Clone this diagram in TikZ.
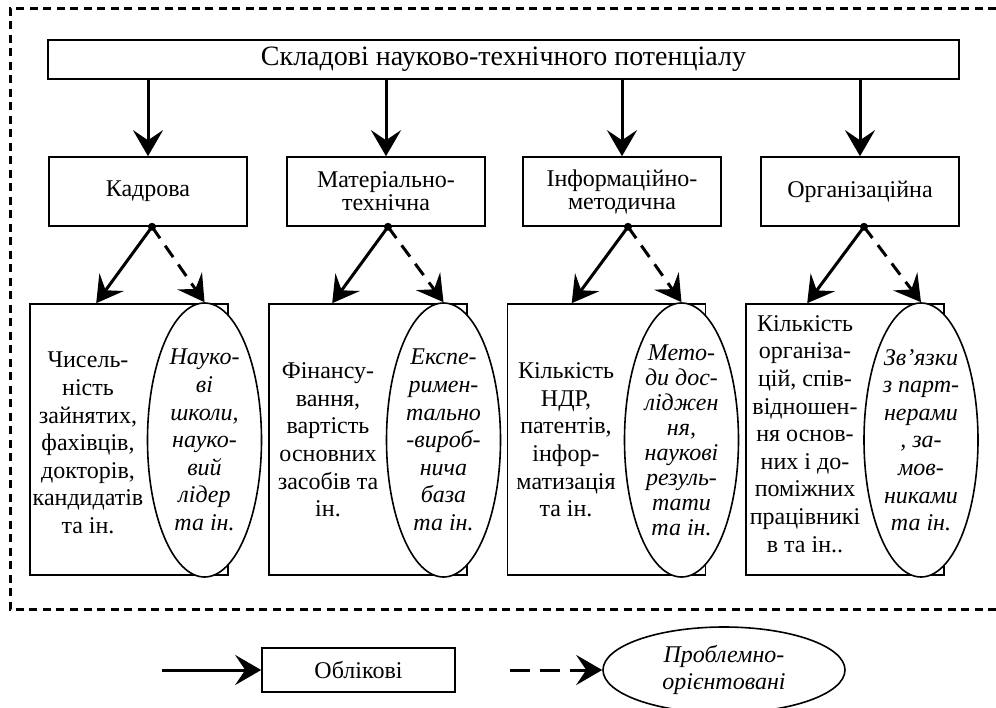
\documentclass[tikz,border=0pt]{standalone}
\usepackage{fontspec}
\setmainfont{Liberation Serif}
\usetikzlibrary{arrows.meta,shapes.geometric,calc}
\begin{document}
\begin{tikzpicture}[x=1pt,y=-1pt,
  txt/.style={font=\fontsize{24}{27.6}\selectfont,align=center,inner sep=0pt},
  box/.style={draw,line width=1.6pt,inner sep=0pt,align=center,font=\fontsize{24}{23}\selectfont},
  bigbox/.style={draw,line width=1.6pt,inner sep=0pt,minimum width=198pt,minimum height=271pt},
  ell/.style={draw,ellipse,fill=white,line width=1.6pt,inner sep=0pt,align=center,
    minimum width=114pt,minimum height=274pt,font=\fontsize{24}{27.6}\selectfont\itshape},
  dot/.style={circle,fill,inner sep=0pt,minimum size=8pt},
  arr/.style={line width=3pt,-{Stealth[length=26pt,width=30pt,inset=10pt]}},
  darr/.style={arr,dash pattern=on 14pt off 9pt},
  frame/.style={line width=3pt,dash pattern=on 8pt off 5.5pt}
]
\useasboundingbox (0,0) rectangle (996,707);
% outer dashed frame (open to the right)
\draw[frame] (996,8) -- (10,8) -- (10,609) -- (996,609);

% top box
\node[box,minimum width=911pt,minimum height=39pt,font=\fontsize{28}{30}\selectfont] (top) at (503.5,59.5) {Складові науково-технічного потенціалу};

% second row
\node[box,minimum width=198pt,minimum height=69pt] (k) at (148,191.5) {Кадрова};
\node[box,minimum width=198pt,minimum height=69pt] (m) at (386,191.5) {Матеріально-\\технічна};
\node[box,minimum width=198pt,minimum height=69pt] (i) at (622,191.5) {Інформаційно-\\методична};
\node[box,minimum width=198pt,minimum height=69pt] (o) at (860,191.5) {Організаційна};

\foreach \n in {k,m,i,o}{
  \draw[arr] (top.south -| \n.north) -- (\n.north);
}

% third row rectangles
\node[bigbox] (r1) at (129,439.5) {};
\node[bigbox] (r2) at (368,439.5) {};
\node[bigbox] (r3) at (606.5,439.5) {};
\node[bigbox] (r4) at (845,439.5) {};

\node[txt] (t1) at (88,443) {Чисель-\\ність\\зайнятих,\\фахівців,\\докторів,\\кандидатів\\та ін.};
\node[txt] (t2) at (328,440) {Фінансу-\\вання,\\вартість\\основних\\засобів та\\ін.};
\node[txt] (t3) at (566,440) {Кількість\\НДР,\\патентів,\\інфор-\\матизація\\та ін.};
\node[txt] (t4) at (805,434) {Кількість\\організа-\\цій, спів-\\відношен-\\ня основ-\\них і до-\\поміжних\\працівникі\\в та ін..};

% ellipses
\node[ell] (e1) at (204.5,440) {Науко-\\ві\\школи,\\науко-\\вий\\лідер\\та ін.};
\node[ell] (e2) at (443.5,440) {Експе-\\римен-\\тально\\-вироб-\\нича\\база\\та ін.};
\node[ell,font=\fontsize{24}{25}\selectfont\itshape] (e3) at (681.5,440) {Мето-\\ди дос-\\ліджен\\ня,\\наукові\\резуль-\\тати\\та ін.};
\node[ell] (e4) at (921,440) {Зв’язки\\з парт-\\нерами\\, за-\\мов-\\никами\\та ін.};

% dots and branching arrows
\node[dot] (d1) at ($(k.south)+(4,0)$) {};
\node[dot] (d2) at ($(m.south)+(2,0)$) {};
\node[dot] (d3) at ($(i.south)+(6,0)$) {};
\node[dot] (d4) at ($(o.south)+(4,0)$) {};
\coordinate (s1) at ($(r1.north west)+(67,0)$);
\coordinate (s2) at ($(r2.north west)+(64,0)$);
\coordinate (s3) at ($(r3.north west)+(65,0)$);
\coordinate (s4) at ($(r4.north west)+(62,0)$);
\foreach \j in {1,2,3,4}{
  \draw[arr] (d\j.center) -- (s\j);
  \draw[darr] (d\j.center) -- (e\j.north);
}

% legend
\coordinate (la) at (162,670);
\node[box,minimum width=193pt,minimum height=44pt] (ob) at (358.5,670) {Облікові};
\draw[arr] (la) -- (ob.west);
\coordinate (lb) at (510,670);
\node[draw,ellipse,line width=1.6pt,inner sep=0pt,align=center,minimum width=242pt,minimum height=86pt,
  font=\fontsize{24}{27.6}\selectfont\itshape] (pe) at (724,670) {Проблемно-\\орієнтовані};
\draw[darr,dash pattern=on 20pt off 10pt] (lb) -- (pe.west);
\end{tikzpicture}
\end{document}
